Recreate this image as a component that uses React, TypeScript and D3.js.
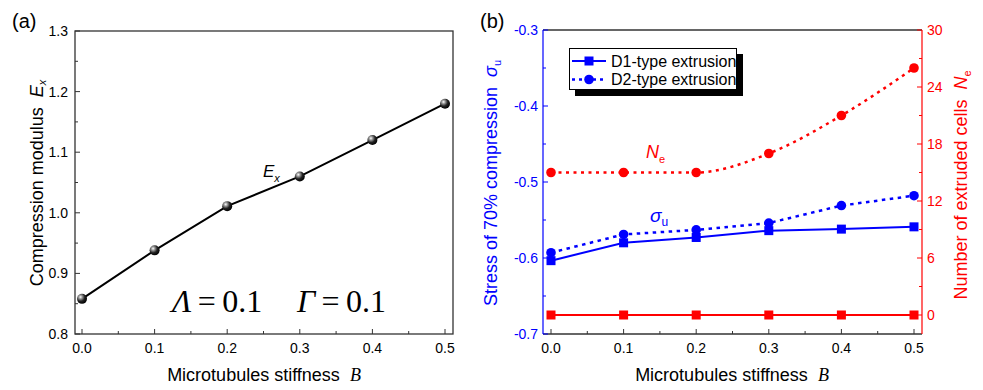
import React from "react";
import * as d3 from "d3";

const B = [0, 0.1, 0.2, 0.3, 0.4, 0.5];
const Ex = [0.858, 0.938, 1.011, 1.06, 1.12, 1.18];
const sigmaD1 = [-0.6035, -0.58, -0.573, -0.564, -0.562, -0.559];
const sigmaD2 = [-0.593, -0.569, -0.563, -0.554, -0.531, -0.518];
const NeD1 = [0, 0, 0, 0, 0, 0];
const NeD2 = [15, 15, 15, 17, 21, 26];

const xTicks = [0, 0.1, 0.2, 0.3, 0.4, 0.5];
const xMinor = [0.05, 0.15, 0.25, 0.35, 0.45];
const aYTicks = [0.8, 0.9, 1.0, 1.1, 1.2, 1.3];
const aYMinor = [0.85, 0.95, 1.05, 1.15, 1.25];
const bLTicks = [-0.7, -0.6, -0.5, -0.4, -0.3];
const bLMinor = [-0.65, -0.55, -0.45, -0.35];
const bRTicks = [0, 6, 12, 18, 24, 30];
const bRMinor = [3, 9, 15, 21, 27];

const FONT = "'Liberation Sans', Arial, sans-serif";
const SERIF = "'Liberation Serif', 'Times New Roman', serif";
const BLUE = "#0000ff";
const RED = "#ff0000";
const SP = "\u00A0\u00A0";
const TH = "\u2009";

export default function App() {
  // Panel a
  const ax = d3.scaleLinear().domain([0, 0.5]).range([82, 445]);
  const ay = d3.scaleLinear().domain([0.8, 1.3]).range([334, 31]);
  const aL = 75, aR = 453, aT = 31, aB = 334;
  const aLine = d3.line<number>().x((_, i) => ax(B[i])).y((d) => ay(d));

  // Panel b
  const bx = d3.scaleLinear().domain([0, 0.5]).range([551, 914]);
  const byL = d3.scaleLinear().domain([-0.7, -0.3]).range([334, 30]);
  const byR = d3.scaleLinear().domain([-2, 30]).range([334, 30]);
  const bL = 543, bR = 922, bT = 30, bB = 334;
  const lineL = d3.line<number>().x((_, i) => bx(B[i])).y((d) => byL(d));
  const lineR = d3.line<number>().x((_, i) => bx(B[i])).y((d) => byR(d));
  const lineRc = d3
    .line<number>()
    .x((_, i) => bx(B[i]))
    .y((d) => byR(d))
    .curve(d3.curveMonotoneX);

  const sq = (cx: number, cy: number, c: string, k: string, s = 9) => (
    <rect key={k} x={cx - s / 2} y={cy - s / 2} width={s} height={s} fill={c} />
  );

  return (
    <svg
      width={983}
      height={390}
      style={{ position: "absolute", left: 0, top: 0, background: "#fff" }}
      fontFamily={FONT}
    >
      <defs>
        <radialGradient id="ball" cx="35%" cy="32%" r="70%">
          <stop offset="0%" stopColor="#ffffff" />
          <stop offset="25%" stopColor="#9a9a9a" />
          <stop offset="60%" stopColor="#222" />
          <stop offset="100%" stopColor="#000" />
        </radialGradient>
      </defs>

      {/* ---------- Panel (a) ---------- */}
      <text x={12} y={28} fontSize={20}>(a)</text>
      <rect x={aL} y={aT} width={aR - aL} height={aB - aT} fill="none" stroke="#333" strokeWidth={1.3} />
      {xTicks.map((t) => (
        <g key={"axt" + t}>
          <line x1={ax(t)} x2={ax(t)} y1={aB} y2={aB - 5} stroke="#333" />
          <text x={ax(t)} y={353} fontSize={14} textAnchor="middle">{t.toFixed(1)}</text>
        </g>
      ))}
      {xMinor.map((t) => (
        <line key={"axm" + t} x1={ax(t)} x2={ax(t)} y1={aB} y2={aB - 3} stroke="#333" />
      ))}
      {aYTicks.map((t) => (
        <g key={"ayt" + t}>
          <line x1={aL} x2={aL + 5} y1={ay(t)} y2={ay(t)} stroke="#333" />
          <text x={68} y={ay(t) + 5} fontSize={14} textAnchor="end">{t.toFixed(1)}</text>
        </g>
      ))}
      {aYMinor.map((t) => (
        <line key={"aym" + t} x1={aL} x2={aL + 3} y1={ay(t)} y2={ay(t)} stroke="#333" />
      ))}
      <path d={aLine(Ex) || ""} fill="none" stroke="#000" strokeWidth={2} />
      {Ex.map((v, i) => (
        <circle key={"ab" + i} cx={ax(B[i])} cy={ay(v)} r={5} fill="url(#ball)" />
      ))}
      <text x={263} y={177} fontSize={17} fontStyle="italic">
        E<tspan fontSize={11} dy={5}>x</tspan>
      </text>
      <text x={172} y={312} fontSize={32} fontFamily={SERIF}>
        <tspan fontStyle="italic">Λ</tspan>
        {TH + "=" + TH + "0.1"}
      </text>
      <text x={297} y={312} fontSize={32} fontFamily={SERIF}>
        <tspan fontStyle="italic">Γ</tspan>
        {TH + "=" + TH + "0.1"}
      </text>
      <text x={264} y={381} fontSize={18} textAnchor="middle">
        {"Microtubules stiffness" + SP}
        <tspan fontStyle="italic" fontFamily={SERIF}>B</tspan>
      </text>
      <text transform="translate(43,183) rotate(-90)" fontSize={18} textAnchor="middle">
        {"Compression modulus" + SP}
        <tspan fontStyle="italic">E</tspan>
        <tspan fontSize={11} dy={3} fontStyle="italic">x</tspan>
      </text>

      {/* ---------- Panel (b) ---------- */}
      <text x={480} y={28} fontSize={20}>(b)</text>
      <line x1={bL} x2={bR} y1={bT} y2={bT} stroke="#333" strokeWidth={1.3} />
      <line x1={bL} x2={bR} y1={bB} y2={bB} stroke="#333" strokeWidth={1.3} />
      <line x1={bL} x2={bL} y1={bT} y2={bB} stroke={BLUE} strokeWidth={1.2} />
      <line x1={bR} x2={bR} y1={bT} y2={bB} stroke={RED} strokeWidth={1.2} />
      {xTicks.map((t) => (
        <g key={"bxt" + t}>
          <line x1={bx(t)} x2={bx(t)} y1={bB} y2={bB - 5} stroke="#333" />
          <text x={bx(t)} y={353} fontSize={14} textAnchor="middle">{t.toFixed(1)}</text>
        </g>
      ))}
      {xMinor.map((t) => (
        <line key={"bxm" + t} x1={bx(t)} x2={bx(t)} y1={bB} y2={bB - 3} stroke="#333" />
      ))}
      {bLTicks.map((t) => (
        <g key={"blt" + t}>
          <line x1={bL} x2={bL + 5} y1={byL(t)} y2={byL(t)} stroke={BLUE} />
          <text x={538} y={byL(t) + 5} fontSize={14} textAnchor="end" fill={BLUE}>{t.toFixed(1)}</text>
        </g>
      ))}
      {bLMinor.map((t) => (
        <line key={"blm" + t} x1={bL} x2={bL + 3} y1={byL(t)} y2={byL(t)} stroke={BLUE} />
      ))}
      {bRTicks.map((t) => (
        <g key={"brt" + t}>
          <line x1={bR} x2={bR - 5} y1={byR(t)} y2={byR(t)} stroke={RED} />
          <text x={927} y={byR(t) + 5} fontSize={14} textAnchor="start" fill={RED}>{t}</text>
        </g>
      ))}
      {bRMinor.map((t) => (
        <line key={"brm" + t} x1={bR} x2={bR - 3} y1={byR(t)} y2={byR(t)} stroke={RED} />
      ))}

      {/* red series */}
      <path d={lineR(NeD1) || ""} fill="none" stroke={RED} strokeWidth={2} />
      {NeD1.map((v, i) => sq(bx(B[i]), byR(v), RED, "rs" + i))}
      <path d={lineRc(NeD2) || ""} fill="none" stroke={RED} strokeWidth={2.5} strokeDasharray="3,4.5" />
      {NeD2.map((v, i) => (
        <circle key={"rc" + i} cx={bx(B[i])} cy={byR(v)} r={4.8} fill={RED} />
      ))}

      {/* blue series */}
      <path d={lineL(sigmaD1) || ""} fill="none" stroke={BLUE} strokeWidth={2} />
      {sigmaD1.map((v, i) => sq(bx(B[i]), byL(v), BLUE, "bs" + i))}
      <path d={lineL(sigmaD2) || ""} fill="none" stroke={BLUE} strokeWidth={2.5} strokeDasharray="3.5,4.5" />
      {sigmaD2.map((v, i) => (
        <circle key={"bc" + i} cx={bx(B[i])} cy={byL(v)} r={4.8} fill={BLUE} />
      ))}

      {/* annotations */}
      <text x={646} y={158} fontSize={18} fontStyle="italic" fill={RED}>
        N<tspan fontSize={11} dy={5} fontStyle="normal">e</tspan>
      </text>
      <text x={650} y={222} fontSize={19} fontStyle="italic" fill={BLUE}>
        σ<tspan fontSize={12} dy={4} fontStyle="normal">u</tspan>
      </text>

      {/* legend */}
      <rect x={575} y={54} width={168} height={42} fill="#000" />
      <rect x={569.5} y={48.5} width={167} height={41} fill="#fff" stroke="#000" strokeWidth={1} />
      <line x1={572} x2={606} y1={61} y2={61} stroke={BLUE} strokeWidth={2} />
      {sq(589, 61, BLUE, "lg1")}
      <text x={611} y={66.5} fontSize={16}>D1-type extrusion</text>
      <line x1={572} x2={606} y1={79.5} y2={79.5} stroke={BLUE} strokeWidth={2.5} strokeDasharray="3,4" />
      <circle cx={589} cy={79.5} r={4.8} fill={BLUE} />
      <text x={611} y={85} fontSize={16}>D2-type extrusion</text>

      <text x={732} y={381} fontSize={18} textAnchor="middle">
        {"Microtubules stiffness" + SP}
        <tspan fontStyle="italic" fontFamily={SERIF}>B</tspan>
      </text>
      <text transform="translate(497,183) rotate(-90)" fontSize={18} textAnchor="middle" fill={BLUE}>
        {"Stress of 70% compression" + SP}
        <tspan fontStyle="italic">σ</tspan>
        <tspan fontSize={11} dy={4}>u</tspan>
      </text>
      <text transform="translate(967,185) rotate(-90)" fontSize={18} textAnchor="middle" fill={RED}>
        {"Number of extruded cells" + SP}
        <tspan fontStyle="italic">N</tspan>
        <tspan fontSize={11} dy={4}>e</tspan>
      </text>
    </svg>
  );
}
